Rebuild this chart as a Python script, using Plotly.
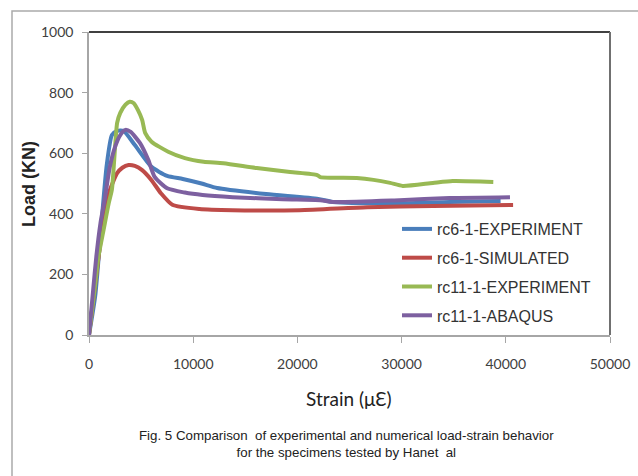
import plotly.graph_objects as go

# ---- data ----
names = ["rc6-1-EXPERIMENT", "rc6-1-SIMULATED", "rc11-1-EXPERIMENT", "rc11-1-ABAQUS"]
colors = ["#4A7EBB", "#BE4B48", "#98B954", "#7D60A0"]

blue_strain = [0, 600, 1200, 1700, 2200, 2700, 3300, 4400, 6000, 7500, 9000, 10800, 12300, 17000, 22000, 23400, 29800, 34600, 39500]
blue_load = [0, 130, 370, 560, 660, 674, 674, 627, 555, 525, 515, 500, 485, 465, 449, 439, 435, 439, 442]

red_strain = [0, 500, 1000, 1500, 2000, 2700, 3200, 3800, 4400, 5100, 6000, 6900, 8000, 10600, 13800, 20200, 26700, 33000, 40700]
red_load = [0, 140, 280, 400, 478, 534, 552, 561, 558, 544, 511, 468, 430, 416, 412, 412, 422, 426, 429]

green_strain = [0, 500, 900, 1400, 1900, 2200, 2700, 3000, 3500, 3900, 4300, 4700, 5100, 5400, 6000, 7600, 9200, 11000, 12900, 16100, 19300, 21900, 22200, 25700, 27300, 28900, 30100, 33000, 34900, 38800]
green_load = [0, 140, 258, 347, 436, 480, 700, 733, 760, 770, 765, 742, 710, 666, 638, 605, 584, 572, 567, 551, 538, 528, 521, 518, 512, 502, 492, 502, 508, 505]

purple_strain = [0, 400, 700, 1100, 1500, 2000, 2500, 3000, 3500, 4000, 4900, 5700, 6300, 7500, 9200, 10900, 13800, 18600, 22200, 23400, 29800, 34600, 40400]
purple_load = [0, 149, 258, 369, 446, 555, 621, 660, 677, 670, 633, 577, 522, 484, 470, 462, 455, 448, 445, 439, 445, 452, 455]

x_ticks = [0, 10000, 20000, 30000, 40000, 50000]
y_ticks = [0, 200, 400, 600, 800, 1000]

x_title = "Strain (μƐ)"
y_title = "Load (KN)"
caption = "Fig. 5 Comparison  of experimental and numerical load-strain behavior<br>for the specimens tested by Hanet  al"

series = [(blue_strain, blue_load), (red_strain, red_load), (green_strain, green_load), (purple_strain, purple_load)]

fig = go.Figure()
for (xs, ys), n, c in zip(series, names, colors):
    fig.add_trace(go.Scatter(x=xs, y=ys, name=n, mode="lines", legendgroup=n,
                             line=dict(color=c, width=4, shape="spline", smoothing=0.6)))

W, H = 638, 476
L, R, T, B = 89, 28, 32, 141
pw, ph = W - L - R, H - T - B

def px(x):
    return (x - L) / pw

def py(y):
    return (H - B - y) / ph

fig.update_layout(
    width=W, height=H,
    margin=dict(l=L, r=R, t=T, b=B, autoexpand=False),
    paper_bgcolor="white", plot_bgcolor="white",
    showlegend=True,
    legend=dict(x=px(397), y=py(212), xanchor="left", yanchor="top",
                font=dict(family="Liberation Sans Narrow, Arial Narrow, Liberation Sans", size=16, color="#333333"),
                bgcolor="rgba(0,0,0,0)", tracegroupgap=5, itemwidth=30),
    xaxis=dict(range=[0, 50000], tickvals=x_ticks, ticktext=[str(v) for v in x_ticks],
               automargin=False,
               showgrid=False, zeroline=False, showline=True, linecolor="#A6A6A6", linewidth=1.5,
               ticks="outside", ticklen=6, tickcolor="#A6A6A6", ticklabelstandoff=9,
               tickfont=dict(family="Lato, Open Sans", size=14, color="#404040")),
    yaxis=dict(range=[0, 1000], tickvals=y_ticks, ticktext=[str(v) for v in y_ticks],
               automargin=False,
               showgrid=False, zeroline=False, showline=True, linecolor="#A6A6A6", linewidth=1.5,
               ticks="outside", ticklen=5, tickcolor="#A6A6A6", ticklabelstandoff=6,
               tickfont=dict(family="Lato, Open Sans", size=14, color="#404040")),
    font=dict(family="Lato, Open Sans"),
)

# plot area top/right border (dark)
fig.add_shape(type="line", xref="paper", yref="paper", x0=0, x1=1, y0=1, y1=1,
              line=dict(color="#404040", width=2))
fig.add_shape(type="line", xref="paper", yref="paper", x0=1, x1=1, y0=0, y1=1,
              line=dict(color="#707070", width=2))
# outer chart frame
fig.add_shape(type="rect", xref="paper", yref="paper", x0=px(12), x1=px(645), y0=py(485), y1=py(11),
              line=dict(color="#AAAAAA", width=1.5), layer="below")

fig.add_annotation(text="<b>" + y_title + "</b>", xref="paper", yref="paper", x=px(29), y=py(184),
                   textangle=-90, showarrow=False, xanchor="center", yanchor="middle",
                   font=dict(family="Liberation Sans, Arial", size=18, color="#222222"))
fig.add_annotation(text=x_title, xref="paper", yref="paper", x=px(349), y=py(398),
                   showarrow=False, xanchor="center", yanchor="middle",
                   font=dict(family="Lato, Liberation Sans", size=19, color="#222222"))
fig.add_annotation(text=caption, xref="paper", yref="paper", x=px(346), y=py(444),
                   showarrow=False, xanchor="center", yanchor="middle",
                   font=dict(family="Liberation Sans Narrow, Arial Narrow, Liberation Sans", size=13.3, color="#222222"))

fig.write_html("out.html", config={"displayModeBar": False},
               post_script="document.body.style.margin='0';")
